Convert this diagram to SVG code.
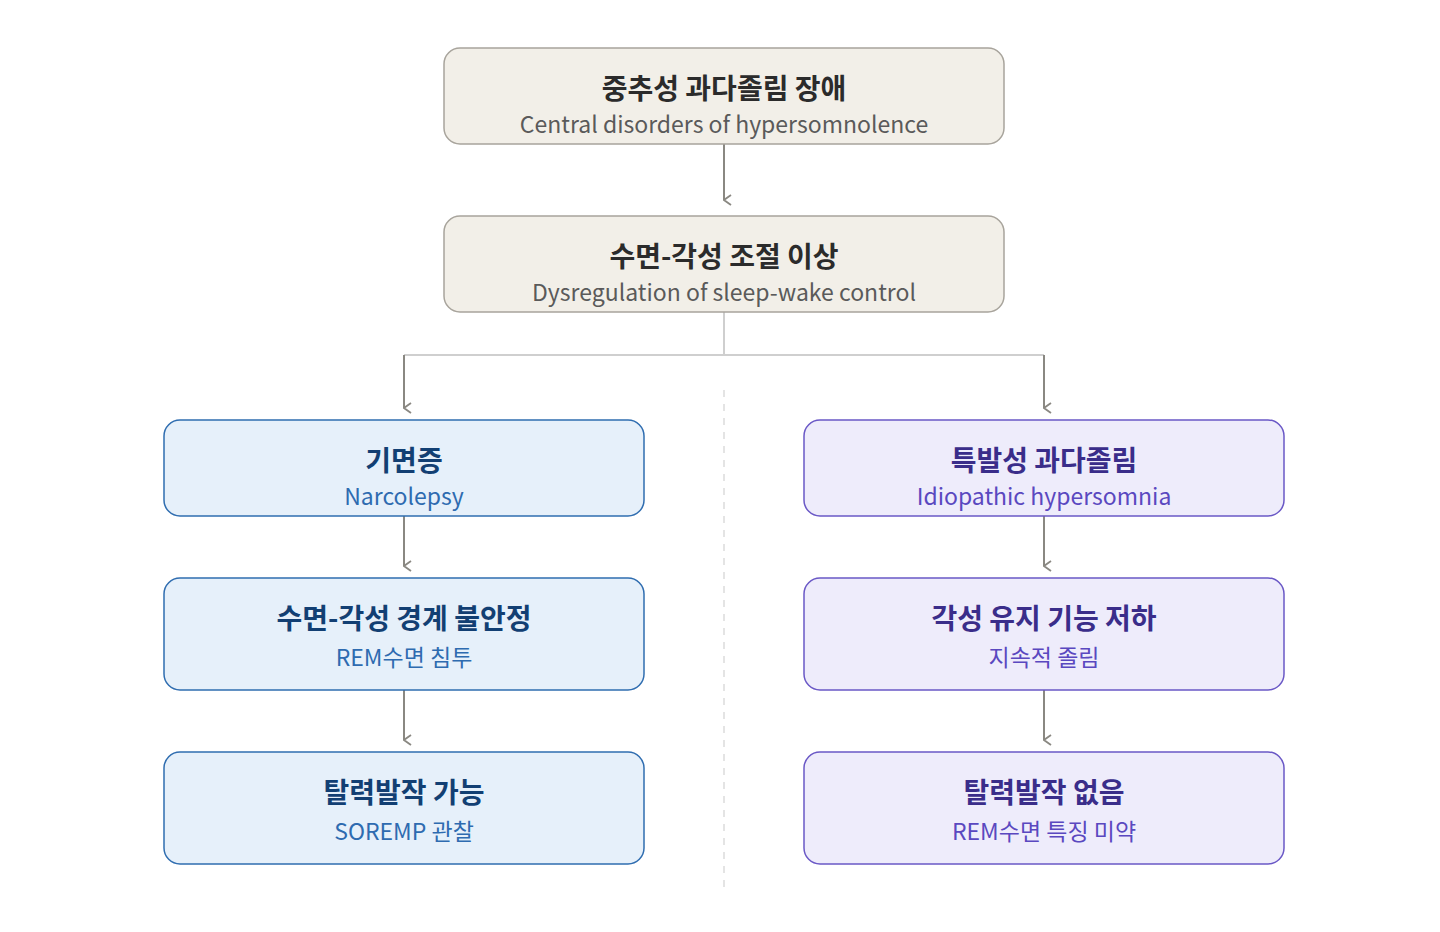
<svg xmlns="http://www.w3.org/2000/svg" width="1440" height="932" viewBox="0 0 1440 932">
<style>
text{text-anchor:middle;font-family:"Noto Sans CJK KR","Noto Sans",sans-serif}
.t{font-size:28px;font-weight:700}
.s{font-size:23px}
.g rect{fill:#f2efe8;stroke:#a8a49c;stroke-width:1.5}
.g .t{fill:#2b2b2b}.g .s{fill:#5a5a5a}
.b rect{fill:#e6f0fa;stroke:#2f6db0;stroke-width:1.5}
.b .t{fill:#123f73}.b .s{fill:#2e6bb0}
.p rect{fill:#eeecfb;stroke:#6a58c6;stroke-width:1.5}
.p .t{fill:#3a2d8a}.p .s{fill:#5a48c0}
.c{fill:none;stroke:#8a8882;stroke-width:2}
</style>
<defs><marker id="a" viewBox="0 0 12 12" refX="6" refY="11" markerWidth="12" markerHeight="12" markerUnits="userSpaceOnUse" orient="auto-start-reverse"><path d="M1,4 L6,11 L11,4" fill="none" stroke="#8a8882" stroke-width="1.8"/></marker></defs>
<rect width="1440" height="932" fill="#fff"/>
<g id="connectors">
<line class="c" x1="724" y1="144" x2="724" y2="200" marker-end="url(#a)"/>
<path d="M724,312 V355 M404,355 H1044" fill="none" stroke="#cfcfcf" stroke-width="2"/>
<line class="c" x1="404" y1="355" x2="404" y2="408" marker-end="url(#a)"/>
<line class="c" x1="1044" y1="355" x2="1044" y2="408" marker-end="url(#a)"/>
<line class="c" x1="404" y1="516" x2="404" y2="566" marker-end="url(#a)"/>
<line class="c" x1="1044" y1="516" x2="1044" y2="566" marker-end="url(#a)"/>
<line class="c" x1="404" y1="690" x2="404" y2="740" marker-end="url(#a)"/>
<line class="c" x1="1044" y1="690" x2="1044" y2="740" marker-end="url(#a)"/>
<line x1="724" y1="390" x2="724" y2="888" stroke="#dcdcdc" stroke-width="1.5" stroke-dasharray="7,7"/>
</g>
<g id="n1" class="g"><rect x="444" y="48" width="560" height="96" rx="16"/><text class="t" x="724" y="99">중추성 과다졸림 장애</text><text class="s" x="724" y="133">Central disorders of hypersomnolence</text></g>
<g id="n2" class="g"><rect x="444" y="216" width="560" height="96" rx="16"/><text class="t" x="724" y="267">수면-각성 조절 이상</text><text class="s" x="724" y="301">Dysregulation of sleep-wake control</text></g>
<g id="n3" class="b"><rect x="164" y="420" width="480" height="96" rx="16"/><text class="t" x="404" y="471">기면증</text><text class="s" x="404" y="505">Narcolepsy</text></g>
<g id="n4" class="p"><rect x="804" y="420" width="480" height="96" rx="16"/><text class="t" x="1044" y="471">특발성 과다졸림</text><text class="s" x="1044" y="505">Idiopathic hypersomnia</text></g>
<g id="n5" class="b"><rect x="164" y="578" width="480" height="112" rx="16"/><text class="t" x="404" y="629">수면-각성 경계 불안정</text><text class="s" x="404" y="666">REM수면 침투</text></g>
<g id="n6" class="p"><rect x="804" y="578" width="480" height="112" rx="16"/><text class="t" x="1044" y="629">각성 유지 기능 저하</text><text class="s" x="1044" y="666">지속적 졸림</text></g>
<g id="n7" class="b"><rect x="164" y="752" width="480" height="112" rx="16"/><text class="t" x="404" y="803">탈력발작 가능</text><text class="s" x="404" y="840">SOREMP 관찰</text></g>
<g id="n8" class="p"><rect x="804" y="752" width="480" height="112" rx="16"/><text class="t" x="1044" y="803">탈력발작 없음</text><text class="s" x="1044" y="840">REM수면 특징 미약</text></g>
</svg>
